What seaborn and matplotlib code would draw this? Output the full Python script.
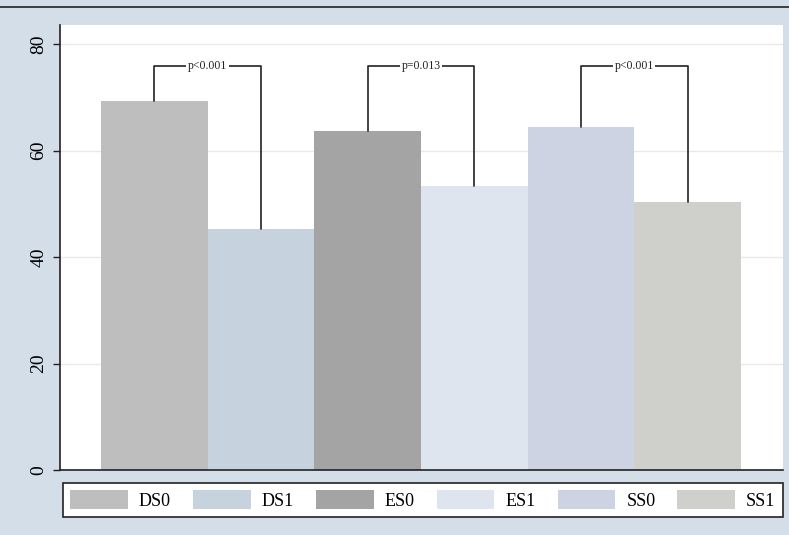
import matplotlib
matplotlib.use("Agg")
import matplotlib.pyplot as plt
import matplotlib.patches as mpatches
import seaborn as sns
import pandas as pd

# values
groups = ["DS0", "DS1", "ES0", "ES1", "SS0", "SS1"]
means = [69.3, 45.3, 63.7, 53.3, 64.4, 50.3]
colors = ["#bebebe", "#c6d3df", "#a4a4a4", "#dfe5ee", "#cdd3e3", "#cfcfcb"]

# pairwise comparisons: (left index, right index, label)
pairs = [(0, 1, "p<0.001"), (2, 3, "p=0.013"), (4, 5, "p<0.001")]
bracket_y = 76

sns.set_theme(style="white")
plt.rcParams["font.family"] = ["Liberation Serif", "DejaVu Serif"]

df = pd.DataFrame({"group": groups, "mean": means})

fig = plt.figure(figsize=(7.89, 5.35), dpi=100)
fig.patch.set_facecolor("#d3dee8")
ax = fig.add_axes([0.076, 0.1215, 0.916, 0.8315])
ax.set_facecolor("white")

sns.barplot(data=df, x="group", y="mean", hue="group", palette=colors,
            width=1.0, dodge=False, legend=False, ax=ax, saturation=1,
            linewidth=0, edgecolor="none")

# light gridlines
for yv in [20, 40, 60, 80]:
    ax.axhline(yv, color="#ece8e4", lw=1, zorder=0)

# significance brackets
for i, j, lab in pairs:
    ax.plot([i, i, j, j], [means[i], bracket_y, bracket_y, means[j]],
            color="#222222", lw=1.2, zorder=3)
    ax.text((i + j) / 2, bracket_y, lab, ha="center", va="center", fontsize=8.5,
            color="#222222", zorder=4,
            bbox=dict(facecolor="white", edgecolor="none", pad=1))

ax.set_xlim(-0.883, 5.89)
ax.set_ylim(0, 83.6)
ax.set_yticks([0, 20, 40, 60, 80])
ax.set_yticklabels(["0", "20", "40", "60", "80"], rotation=90, va="center",
                   fontsize=14, color="black")
ax.tick_params(axis="y", left=True, length=5, width=1, color="#222222", pad=4)
ax.set_xticks([])
ax.set_xlabel("")
ax.set_ylabel("")
for s in ["top", "right"]:
    ax.spines[s].set_visible(False)
for s in ["left", "bottom"]:
    ax.spines[s].set_color("#222222")
    ax.spines[s].set_linewidth(1.2)

handles = [mpatches.Patch(facecolor=c, edgecolor="none", label=g)
           for g, c in zip(groups, colors)]
leg = fig.legend(handles=handles, ncol=6, loc="lower left",
                 bbox_to_anchor=(0.08, 0.034, 0.912, 0.066), mode="expand",
                 frameon=True, fancybox=False, framealpha=1, fontsize=13,
                 handlelength=3.2, handleheight=1.2, handletextpad=0.6,
                 borderaxespad=0, columnspacing=1.0, labelcolor="black")
leg.get_frame().set_edgecolor("#222222")
leg.get_frame().set_linewidth(1.2)
leg.get_frame().set_facecolor("white")

# dark rule at the top of the figure
fig.add_artist(plt.Line2D([0, 1], [0.987, 0.987], color="#222222", lw=1.2,
                          transform=fig.transFigure))

fig.savefig("out.png", dpi=100, facecolor=fig.get_facecolor())
